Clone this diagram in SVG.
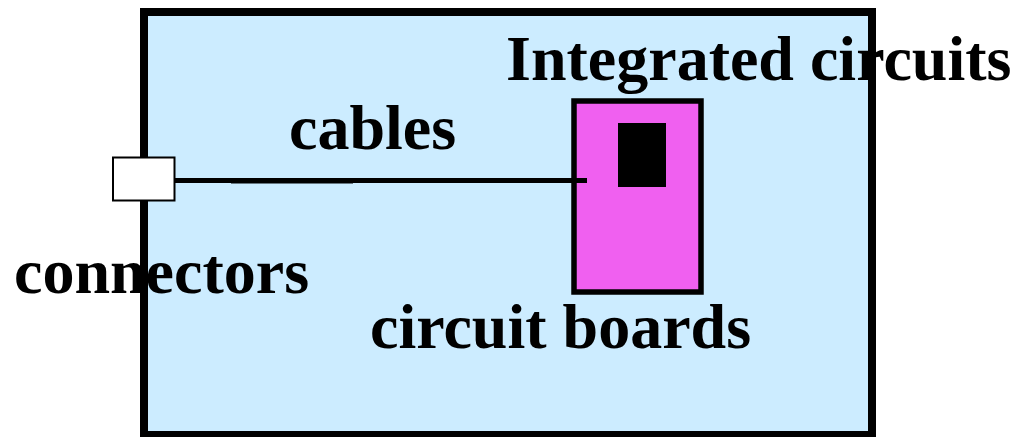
<svg xmlns="http://www.w3.org/2000/svg" width="1015" height="437" viewBox="0 0 1015 437">
  <style>
    .lbl { font-family: "Liberation Serif", "Times New Roman", serif; font-weight: bold; font-size: 64px; fill: #000; }
    .cable { stroke: #000; stroke-width: 5; fill: none; }
  </style>
  <rect width="1015" height="437" fill="#fff"/>
  <!-- enclosure fill -->
  <g id="enclosure-fill">
    <rect x="144" y="12" width="728" height="423" fill="#CCECFF"/>
  </g>
  <!-- labels -->
  <g id="labels">
    <text class="lbl" x="506" y="80">Integrated circuits</text>
    <text class="lbl" x="289" y="149">cables</text>
    <text class="lbl" x="14" y="293">connectors</text>
    <text class="lbl" x="370" y="348">circuit boards</text>
  </g>
  <!-- enclosure outline -->
  <g id="enclosure">
    <rect x="144" y="12" width="728" height="423" fill="none" stroke="#000" stroke-width="8"/>
  </g>
  <!-- circuit board with IC -->
  <g id="circuit-board">
    <rect x="574" y="101" width="127" height="191" fill="#F060F0" stroke="#000" stroke-width="5.5"/>
  </g>
  <g id="integrated-circuit">
    <rect x="618" y="123" width="48" height="64" fill="#000"/>
  </g>
  <!-- cable -->
  <g id="connectors-lines">
    <line class="cable" x1="174" y1="180.5" x2="587" y2="180.5"/>
    <line class="cable" x1="231" y1="181" x2="353" y2="181" stroke-width="6"/>
  </g>
  <!-- connector -->
  <g id="connector">
    <rect x="113" y="157.5" width="61.5" height="43" fill="#fff" stroke="#000" stroke-width="2"/>
  </g>
</svg>
